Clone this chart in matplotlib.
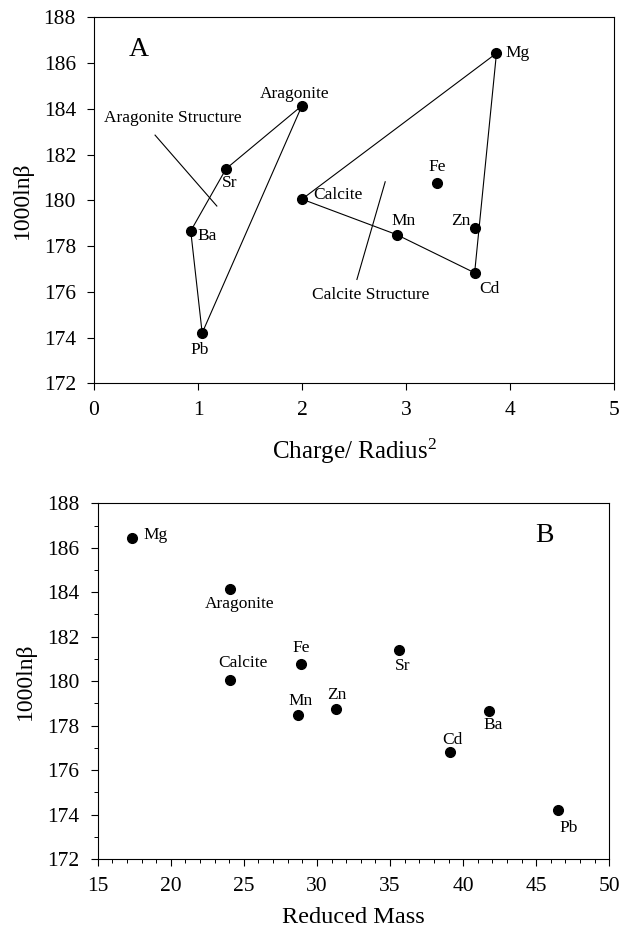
import matplotlib
matplotlib.use('Agg')
import matplotlib.pyplot as plt
from matplotlib.ticker import MultipleLocator

plt.rcParams['font.family'] = ['Liberation Serif', 'DejaVu Serif']
plt.rcParams['mathtext.fontset'] = 'custom'
plt.rcParams['mathtext.rm'] = 'Liberation Serif'
plt.rcParams['mathtext.it'] = 'Liberation Serif:italic'

# carbonate cations: charge/radius^2, reduced mass and 1000 ln(beta)
names = ['Mg', 'Aragonite', 'Sr', 'Fe', 'Calcite', 'Zn', 'Ba', 'Mn', 'Cd', 'Pb']
charge_radius2 = [3.87, 2.00, 1.27, 3.30, 2.00, 3.66, 0.93, 2.91, 3.66, 1.04]
reduced_mass = [17.33, 24.05, 35.61, 28.93, 24.05, 31.28, 41.75, 28.68, 39.12, 46.51]
lnbeta = [186.43, 184.14, 181.38, 180.77, 180.05, 178.77, 178.66, 178.50, 176.83, 174.20]

# outlines of the two structure groups
aragonite_group = ['Aragonite', 'Sr', 'Ba', 'Pb', 'Aragonite']
calcite_group = ['Calcite', 'Mg', 'Cd', 'Mn', 'Calcite']

# label offsets in pixels (dx, dy) for each panel
offsets_a = {'Mg': (21, 0), 'Aragonite': (-7, 12), 'Sr': (4, -14), 'Fe': (0, 16),
             'Calcite': (36, 4), 'Zn': (-14, 7), 'Ba': (16, -5), 'Mn': (7, 14),
             'Cd': (15, -16), 'Pb': (-3, -17)}
offsets_b = {'Mg': (24, 3), 'Aragonite': (10, -15), 'Sr': (4, -16), 'Fe': (0, 16),
             'Calcite': (13, 17), 'Zn': (1, 14), 'Ba': (4, -14), 'Mn': (3, 14),
             'Cd': (2, 12), 'Pb': (10, -18)}

fig = plt.figure(figsize=(6.21, 9.31), dpi=100)
ax1 = fig.add_axes([0.1514, 0.5883, 0.8373, 0.3931])
ax2 = fig.add_axes([0.1573, 0.0773, 0.8239, 0.3821])

idx = {n: i for i, n in enumerate(names)}

# panel A
for grp in (aragonite_group, calcite_group):
    ax1.plot([charge_radius2[idx[n]] for n in grp], [lnbeta[idx[n]] for n in grp],
             color='black', lw=0.8)
ax1.plot(charge_radius2, lnbeta, 'o', color='black', ms=7)
for n, x, y in zip(names, charge_radius2, lnbeta):
    ax1.annotate(n, (x, y), xytext=offsets_a[n], textcoords='offset pixels',
                 ha='center', va='center', fontsize=12.5)

ax1.plot([0.587, 1.181], [182.85, 179.75], color='black', lw=0.8)
ax1.text(0.757, 183.58, 'Aragonite Structure', ha='center', va='center', fontsize=12.5)
ax1.plot([2.80, 2.528], [180.81, 176.54], color='black', lw=0.8)
ax1.text(2.663, 175.86, 'Calcite Structure', ha='center', va='center', fontsize=12.5)
ax1.text(0.426, 186.6, 'A', ha='center', va='center', fontsize=20)

ax1.set_xlim(0, 5)
ax1.set_ylim(172, 188)
ax1.xaxis.set_major_locator(MultipleLocator(1))
ax1.yaxis.set_major_locator(MultipleLocator(2))
ax1.set_xlabel('Charge/ Radius$^2$', fontsize=18, labelpad=12)
ax1.set_ylabel('1000lnβ', fontsize=17, labelpad=8)

# panel B
ax2.plot(reduced_mass, lnbeta, 'o', color='black', ms=7)
for n, x, y in zip(names, reduced_mass, lnbeta):
    ax2.annotate(n, (x, y), xytext=offsets_b[n], textcoords='offset pixels',
                 ha='center', va='center', fontsize=12.5)
ax2.text(45.55, 186.53, 'B', ha='center', va='center', fontsize=20)

ax2.set_xlim(15, 50)
ax2.set_ylim(172, 188)
ax2.xaxis.set_major_locator(MultipleLocator(5))
ax2.xaxis.set_minor_locator(MultipleLocator(1))
ax2.yaxis.set_major_locator(MultipleLocator(2))
ax2.yaxis.set_minor_locator(MultipleLocator(1))
ax2.set_xlabel('Reduced Mass', fontsize=17.5, labelpad=8)
ax2.set_ylabel('1000lnβ', fontsize=17, labelpad=8)

for ax in (ax1, ax2):
    ax.tick_params(which='major', direction='out', length=5, width=0.8,
                   labelsize=15.5, pad=8)
    ax.tick_params(which='minor', direction='out', length=3, width=0.7)
    for s in ax.spines.values():
        s.set_linewidth(0.8)

fig.savefig('out.png', dpi=100)
